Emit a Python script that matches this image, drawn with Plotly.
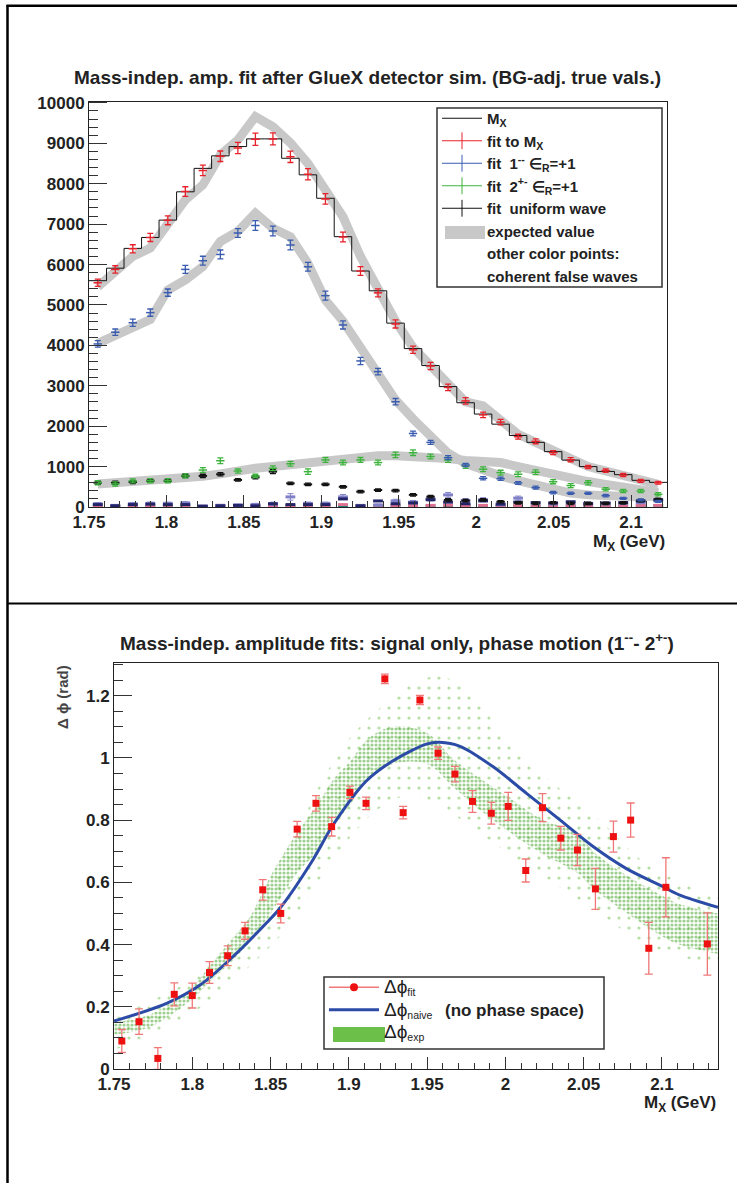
import numpy as np
import plotly.graph_objects as go

FONT = "Liberation Sans, Arial, Helvetica, sans-serif"
W, H = 737, 1183

# ---------------- top panel data (33 mass bins) ----------------
MASS_LO, MASS_HI, N_BINS = 1.75, 2.1232, 33
bin_w = (MASS_HI - MASS_LO) / N_BINS
centers = MASS_LO + bin_w * (np.arange(N_BINS) + 0.5)
edges = MASS_LO + bin_w * np.arange(N_BINS + 1)

hist_mx = [5600, 5910, 6400, 6670, 7100, 7800, 8380, 8690, 8920, 9110, 9110,
           8630, 8220, 7640, 6690, 5840, 5350, 4550, 3920, 3500, 2980, 2580,
           2300, 2050, 1770, 1600, 1370, 1160, 1000, 880, 800, 660, 610]

fit_total = [5550, 5880, 6390, 6670, 7095, 7805, 8330, 8680, 8885, 9100, 9110,
             8665, 8235, 7625, 6680, 5840, 5300, 4530, 3890, 3490, 2960, 2625,
             2280, 2100, 1740, 1625, 1345, 1170, 990, 900, 790, 645, 600]
fit_total_err = [90, 90, 100, 100, 110, 120, 130, 130, 140, 150, 150, 140, 140,
                 130, 120, 110, 100, 100, 90, 90, 80, 80, 70, 70, 60, 60, 50,
                 50, 40, 40, 40, 35, 35]

fit_1m = [4035, 4325, 4560, 4810, 5305, 5880, 6095, 6250, 6780, 6965, 6830,
          6485, 5945, 5230, 4505, 3615, 3350, 2605, 1820, 1600, 1220, 1040,
          710, 700, 595, 480, 355, 340, 340, 280, 215, 175, 140]
fit_1m_err = [80, 80, 90, 90, 90, 100, 110, 110, 110, 120, 120, 120, 110, 110,
              100, 90, 80, 80, 60, 50, 50, 40, 40, 40, 35, 35, 30, 30, 30, 30,
              25, 25, 25]

fit_2p = [600, 570, 645, 650, 650, 770, 915, 1145, 890, 770, 960, 1070, 875,
          1165, 1100, 1165, 1100, 1290, 1345, 1250, 1165, 1015, 935, 850, 810,
          860, 625, 530, 600, 440, 395, 395, 315]
fit_2p_err = [50, 50, 50, 50, 50, 50, 60, 70, 50, 40, 60, 60, 70, 60, 60, 60,
              60, 70, 70, 60, 60, 60, 60, 60, 60, 60, 50, 50, 50, 40, 40, 40, 40]

fit_uniform = [600, 600, 620, 650, 650, 770, 770, 810, 670, 735, 875, 585, 560,
               560, 500, 380, 420, 405, 300, 255, 175, 155, 175, 130, 100, 90,
               105, 90, 90, 90, 100, 155, 190]
fit_uniform_err = [40, 40, 40, 40, 40, 40, 40, 40, 30, 40, 50, 30, 30, 30, 30,
                   30, 30, 30, 30, 30, 30, 30, 30, 30, 30, 30, 30, 30, 30, 30,
                   30, 30, 30]

exp_total = [5450, 5790, 6200, 6410, 7030, 7600, 7970, 8710, 9085, 9660, 9410,
             9010, 8500, 7850, 7185, 6200, 5400, 4600, 3950, 3500, 3000, 2600,
             2500, 2150, 1800, 1600, 1370, 1200, 1000, 900, 780, 670, 560]
exp_1m = [4050, 4260, 4450, 4640, 5370, 5620, 5950, 6570, 6820, 7270, 6900,
          6690, 6030, 5120, 4600, 3970, 3300, 2650, 2180, 1720, 1330, 1080,
          900, 770, 650, 530, 420, 345, 300, 270, 255, 250, 280]
exp_2p = [570, 600, 620, 630, 650, 700, 760, 820, 900, 960, 1000, 1040, 1080,
          1120, 1200, 1250, 1270, 1270, 1260, 1230, 1200, 1150, 1115, 1100,
          1000, 900, 800, 730, 630, 560, 480, 420, 360]

# coherent false waves (small values near zero)
false_lav = [80, 40, 80, 90, 90, 100, 20, 40, 50, 60, 80, 250, 90, 90, 250, 40,
             50, 150, 120, 200, 300, 160, 180, 60, 220, 90, 80, 100, 90, 80,
             90, 110, 150]
false_lav_err = [30, 20, 30, 30, 30, 30, 20, 20, 20, 30, 40, 80, 30, 30, 60,
                 20, 20, 40, 40, 50, 60, 50, 50, 30, 50, 30, 30, 30, 30, 30,
                 30, 30, 40]
false_navy = [60, 30, 60, 70, 60, 60, 20, 30, 40, 30, 80, 60, 60, 60, 200, 30,
              150, 80, 100, 180, 120, 80, 150, 70, 120, 110, 100, 130, 80, 100,
              110, 150, 180]
false_teal = [20, 15, 20, 25, 20, 20, 10, 15, 20, 15, 20, 25, 20, 20, 25, 15,
              20, 25, 20, 25, 30, 20, 25, 20, 25, 20, 20, 25, 20, 20, 25, 30, 30]
false_pink = [30, 20, 30, 35, 40, 30, 15, 40, 30, 20, 30, 35, 30, 30, 60, 30,
              40, 30, 35, 40, 45, 30, 40, 30, 35, 30, 30, 35, 30, 30, 35, 40, 40]

# ---------------- bottom panel data ----------------
dphi_x = [1.755, 1.766, 1.778, 1.7885, 1.800, 1.811, 1.8226, 1.8337, 1.845,
          1.8565, 1.867, 1.879, 1.889, 1.9007, 1.911, 1.923, 1.9347, 1.9454,
          1.957, 1.9678, 1.979, 1.991, 2.0018, 2.013, 2.0237, 2.0354, 2.046,
          2.0575, 2.069, 2.080, 2.0916, 2.1025, 2.129]
dphi_fit = [0.090, 0.152, 0.034, 0.240, 0.236, 0.310, 0.364, 0.444, 0.576,
            0.500, 0.771, 0.854, 0.779, 0.889, 0.854, 1.254, 0.824, 1.186,
            1.015, 0.948, 0.860, 0.822, 0.844, 0.638, 0.840, 0.742, 0.704,
            0.579, 0.747, 0.800, 0.388, 0.584, 0.402]
dphi_fit_err = [0.037, 0.041, 0.035, 0.037, 0.040, 0.035, 0.032, 0.027, 0.033,
                0.030, 0.025, 0.025, 0.030, 0.020, 0.020, 0.015, 0.020, 0.015,
                0.020, 0.025, 0.035, 0.035, 0.045, 0.037, 0.045, 0.038, 0.050,
                0.066, 0.050, 0.055, 0.083, 0.095, 0.100]

naive_x = [1.75, 1.7836, 1.805, 1.826, 1.8475, 1.8565, 1.877, 1.89, 1.911,
           1.928, 1.95, 1.958, 1.971, 1.992, 2.0135, 2.035, 2.056, 2.077,
           2.099, 2.111, 2.1358]
naive_y = [0.154, 0.211, 0.27, 0.361, 0.47, 0.52, 0.672, 0.785, 0.925, 0.99,
           1.045, 1.05, 1.037, 0.972, 0.886, 0.80, 0.715, 0.645, 0.59, 0.56,
           0.52]

exp_x = [1.75, 1.773, 1.80, 1.811, 1.824, 1.837, 1.85, 1.867, 1.880, 1.890,
         1.901, 1.912, 1.928, 1.950, 1.966, 1.982, 2.003, 2.024, 2.046, 2.056,
         2.078, 2.099, 2.111, 2.1358]
exp_lo = [0.11, 0.135, 0.225, 0.28, 0.34, 0.41, 0.50, 0.63, 0.70, 0.78, 0.85,
          0.93, 0.98, 0.98, 0.91, 0.84, 0.76, 0.69, 0.63, 0.58, 0.50, 0.43,
          0.40, 0.37]
exp_hi = [0.15, 0.175, 0.265, 0.33, 0.41, 0.49, 0.62, 0.76, 0.85, 0.93, 0.99,
          1.06, 1.10, 1.08, 1.00, 0.94, 0.87, 0.80, 0.76, 0.70, 0.62, 0.56,
          0.53, 0.50]
sparse_x = [1.75, 1.80, 1.83, 1.86, 1.88, 1.90, 1.92, 1.94, 1.96, 1.98, 2.00,
            2.03, 2.06, 2.09, 2.1358]
sparse_lo = [0.06, 0.18, 0.30, 0.45, 0.60, 0.74, 0.84, 0.88, 0.84, 0.77, 0.70,
             0.60, 0.50, 0.40, 0.33]
sparse_hi = [0.17, 0.29, 0.44, 0.68, 0.90, 1.06, 1.16, 1.24, 1.26, 1.20, 1.06,
             0.92, 0.80, 0.66, 0.55]

# ---------------- styling ----------------
RED, BLUE, GREEN, BLACK = "#e8222a", "#3a5cb0", "#3cb43c", "#111111"
GRAY = "#c8c8c8"

fig = go.Figure()

def px_x(p):
    return p / W

def px_y(p):
    return 1 - p / H

# expected-value gray bands (thick lines)
for arr in (exp_total, exp_1m, exp_2p):
    fig.add_trace(go.Scatter(x=centers, y=arr, mode="lines",
                             line=dict(color=GRAY, width=9),
                             showlegend=False, hoverinfo="skip",
                             xaxis="x", yaxis="y"))

# coherent false waves
for arr, err, col in ((false_teal, None, "#107c78"), (false_pink, None, "#e07090"),
                      (false_lav, false_lav_err, "#8080c8"),
                      (false_navy, None, "#22246a")):
    fig.add_trace(go.Scatter(
        x=centers, y=arr, mode="markers",
        marker=dict(symbol="line-ew", size=7, line=dict(width=3, color=col)),
        error_y=dict(type="data", array=err, color=col, thickness=1, width=3,
                     visible=err is not None),
        showlegend=False, xaxis="x", yaxis="y"))

# M_X histogram
fig.add_trace(go.Scatter(x=edges, y=list(hist_mx) + [hist_mx[-1]], mode="lines",
                         line=dict(color=BLACK, width=1, shape="hv"),
                         showlegend=False, xaxis="x", yaxis="y"))

for arr, err, col, lw in ((fit_uniform, fit_uniform_err, BLACK, 2),
                          (fit_2p, fit_2p_err, GREEN, 1.5),
                          (fit_1m, fit_1m_err, BLUE, 1.5),
                          (fit_total, fit_total_err, RED, 1.5)):
    fig.add_trace(go.Scatter(
        x=centers, y=arr, mode="markers",
        marker=dict(symbol="line-ew", size=6, line=dict(width=lw, color=col)),
        error_y=dict(type="data", array=err, color=col, thickness=1.3, width=3),
        showlegend=False, xaxis="x", yaxis="y"))

# top legend entries
LEG_TOP = [
    ("M<sub>X</sub>", "line", BLACK),
    ("fit to M<sub>X</sub>", "cross", RED),
    ("fit  1<sup>--</sup> ∈<sub>R</sub>=+1", "cross", BLUE),
    ("fit  2<sup>+-</sup> ∈<sub>R</sub>=+1", "cross", GREEN),
    ("fit  uniform wave", "cross", BLACK),
    ("expected value", "none", GRAY),
    ("other color points:", "none", None),
    ("coherent false waves", "none", None),
]
for i, (name, kind, col) in enumerate(LEG_TOP):
    kw = dict(x=[None], y=[None], name="<b>" + name + "</b>", legend="legend",
              legendgroup="t%d" % i, xaxis="x", yaxis="y", showlegend=True)
    if kind == "line":
        tr = go.Scatter(mode="lines", line=dict(color=col, width=1), **kw)
    elif kind == "cross":
        tr = go.Scatter(mode="lines+markers", line=dict(color=col, width=1),
                        marker=dict(symbol="line-ns", size=12,
                                    line=dict(width=1, color=col)), **kw)
    else:
        tr = go.Scatter(mode="lines", line=dict(width=0, color="rgba(0,0,0,0)"), **kw)
    fig.add_trace(tr)

# bottom panel: expected band (sparse + dense)
fig.add_trace(go.Scatter(x=sparse_x, y=sparse_lo, mode="lines", line=dict(width=0),
                         line_shape="spline",
                         showlegend=False, hoverinfo="skip", xaxis="x2", yaxis="y2"))
fig.add_trace(go.Scatter(x=sparse_x, y=sparse_hi, mode="lines", line=dict(width=0),
                         fill="tonexty", fillcolor="rgba(0,0,0,0)",
                         fillpattern=dict(shape=".", fgcolor="#6cc04a",
                                          bgcolor="rgba(0,0,0,0)", size=10,
                                          solidity=0.08),
                         line_shape="spline",
                         showlegend=False, hoverinfo="skip", xaxis="x2", yaxis="y2"))
fig.add_trace(go.Scatter(x=exp_x, y=exp_lo, mode="lines", line=dict(width=0),
                         line_shape="spline",
                         showlegend=False, hoverinfo="skip", xaxis="x2", yaxis="y2"))
fig.add_trace(go.Scatter(x=exp_x, y=exp_hi, mode="lines", line=dict(width=0),
                         line_shape="spline",
                         fill="tonexty", fillcolor="rgba(115,195,80,0.6)",
                         fillpattern=dict(shape=".", fgcolor="#3f9f22",
                                          bgcolor="rgba(0,0,0,0)", size=4,
                                          solidity=0.5),
                         showlegend=False, hoverinfo="skip", xaxis="x2", yaxis="y2"))

# naive curve
fig.add_trace(go.Scatter(x=naive_x, y=naive_y, mode="lines",
                         line=dict(color="#2b4ba6", width=3, shape="spline",
                                   smoothing=0.9),
                         showlegend=False, xaxis="x2", yaxis="y2"))
# fit points
fig.add_trace(go.Scatter(x=dphi_x, y=dphi_fit, mode="markers",
                         marker=dict(symbol="square", size=7, color="#ee1111"),
                         error_y=dict(type="data", array=dphi_fit_err,
                                      color="#f07878", thickness=1.3, width=4),
                         showlegend=False, xaxis="x2", yaxis="y2"))

# bottom legend entries
DPHI = "<span style='font-size:19px'>Δϕ</span>"
fig.add_trace(go.Scatter(x=[None], y=[None], mode="lines+markers",
                         name=DPHI + "<sub>fit</sub>", legend="legend2",
                         legendgroup="b0",
                         line=dict(color="#f07878", width=1.5),
                         marker=dict(symbol="circle", size=8, color="#ee1111"),
                         xaxis="x2", yaxis="y2"))
fig.add_trace(go.Scatter(x=[None], y=[None], mode="lines",
                         name=DPHI + "<sub>naive</sub>   <b><span style='font-size:17px'>(no phase space)</span></b>",
                         legend="legend2", legendgroup="b1",
                         line=dict(color="#2b4ba6", width=3),
                         xaxis="x2", yaxis="y2"))
fig.add_trace(go.Scatter(x=[None], y=[None], mode="lines",
                         name=DPHI + "<sub>exp</sub>", legend="legend2",
                         legendgroup="b2",
                         line=dict(width=0, color="rgba(0,0,0,0)"),
                         xaxis="x2", yaxis="y2"))

tickfont = dict(family=FONT, size=17, color="#222", weight="bold")
axis_common = dict(showline=True, linecolor="#222", linewidth=1, mirror=True,
                   ticks="inside", tickcolor="#333", showgrid=False, zeroline=False,
                   tickfont=tickfont, automargin=False)

fig.update_layout(
    width=W, height=H, margin=dict(l=0, r=0, t=0, b=0, autoexpand=False),
    paper_bgcolor="white", plot_bgcolor="white",
    font=dict(family=FONT, color="#222"),
    xaxis=dict(domain=[px_x(89), px_x(667)], range=[MASS_LO, MASS_HI],
               tick0=1.75, dtick=0.05, ticklen=12,
               minor=dict(ticks="inside", dtick=0.01, ticklen=6, tickcolor="#333"),
               anchor="y", **axis_common),
    yaxis=dict(domain=[px_y(507), px_y(101.7)], range=[0, 10030],
               dtick=1000, ticklen=18, tickformat="d",
               minor=dict(ticks="inside", dtick=200, ticklen=9, tickcolor="#333"),
               anchor="x", **axis_common),
    xaxis2=dict(domain=[px_x(114), px_x(718)], range=[1.75, 2.1358],
                tick0=1.75, dtick=0.05, ticklen=12,
                minor=dict(ticks="inside", dtick=0.01, ticklen=6, tickcolor="#333"),
                anchor="y2", **axis_common),
    yaxis2=dict(domain=[px_y(1069), px_y(663)], range=[0, 1.305],
                dtick=0.2, ticklen=18,
                minor=dict(ticks="inside", dtick=0.05, ticklen=9, tickcolor="#333"),
                anchor="x2", **axis_common),
    legend=dict(x=px_x(437), y=px_y(102), xanchor="left", yanchor="top",
                bgcolor="rgba(0,0,0,0)", borderwidth=0,
                font=dict(family=FONT, size=15, color="#222"),
                traceorder="grouped", tracegroupgap=0, itemwidth=40,
                itemclick=False),
    legend2=dict(x=px_x(324), y=px_y(971), xanchor="left", yanchor="top",
                 bgcolor="rgba(0,0,0,0)", borderwidth=0,
                 font=dict(family=FONT, size=15, color="#222"),
                 traceorder="grouped", tracegroupgap=0, itemwidth=50,
                 itemclick=False),
)

ann = [
    dict(text="<b>Mass-indep. amp. fit after GlueX detector sim. (BG-adj. true vals.)</b>",
         x=px_x(367), y=px_y(77), font=dict(size=19)),
    dict(text="<b>Mass-indep. amplitude fits: signal only, phase motion (1<sup>--</sup>- 2<sup>+-</sup>)</b>",
         x=px_x(397), y=px_y(642), font=dict(size=19)),
    dict(text="<b>M<sub>X</sub> (GeV)</b>", x=px_x(667), y=px_y(543),
         xanchor="right", font=dict(size=17)),
    dict(text="<b>M<sub>X</sub> (GeV)</b>", x=px_x(718), y=px_y(1104),
         xanchor="right", font=dict(size=17)),
    dict(text="<b>Δ ϕ (rad)</b>", x=px_x(63), y=px_y(697), textangle=-90,
         font=dict(size=15, color="#444")),
]
for a in ann:
    a.setdefault("xanchor", "center")
    a.update(xref="paper", yref="paper", yanchor="middle", showarrow=False)
    a["font"] = dict(family=FONT, color=a["font"].get("color", "#222"),
                     size=a["font"]["size"])
fig.update_layout(annotations=ann)

def rect(x0, y0, x1, y1, **kw):
    d = dict(type="rect", xref="paper", yref="paper",
             x0=px_x(x0), x1=px_x(x1), y0=px_y(y1), y1=px_y(y0))
    d.update(kw)
    return d

fig.update_layout(shapes=[
    # page frame lines
    dict(type="line", xref="paper", yref="paper", x0=px_x(7.5), x1=px_x(7.5),
         y0=px_y(5), y1=0, line=dict(color="black", width=2.5)),
    dict(type="line", xref="paper", yref="paper", x0=px_x(6.5), x1=1,
         y0=px_y(5.8), y1=px_y(5.8), line=dict(color="black", width=2.5)),
    dict(type="line", xref="paper", yref="paper", x0=px_x(7), x1=1,
         y0=px_y(603.5), y1=px_y(603.5), line=dict(color="black", width=2)),
    # legend boxes
    rect(437, 108, 662, 287, line=dict(color="#333", width=1.5),
         fillcolor="white", layer="above"),
    rect(324, 977, 604, 1049, line=dict(color="#333", width=1.5),
         fillcolor="white", layer="above"),
    # legend fill swatches
    rect(445, 226, 485, 239, line=dict(width=0), fillcolor=GRAY, layer="above"),
    rect(333, 1027, 385, 1042, line=dict(width=0), fillcolor="#6cc04a",
         layer="above"),
])

fig.write_html("out.html")
